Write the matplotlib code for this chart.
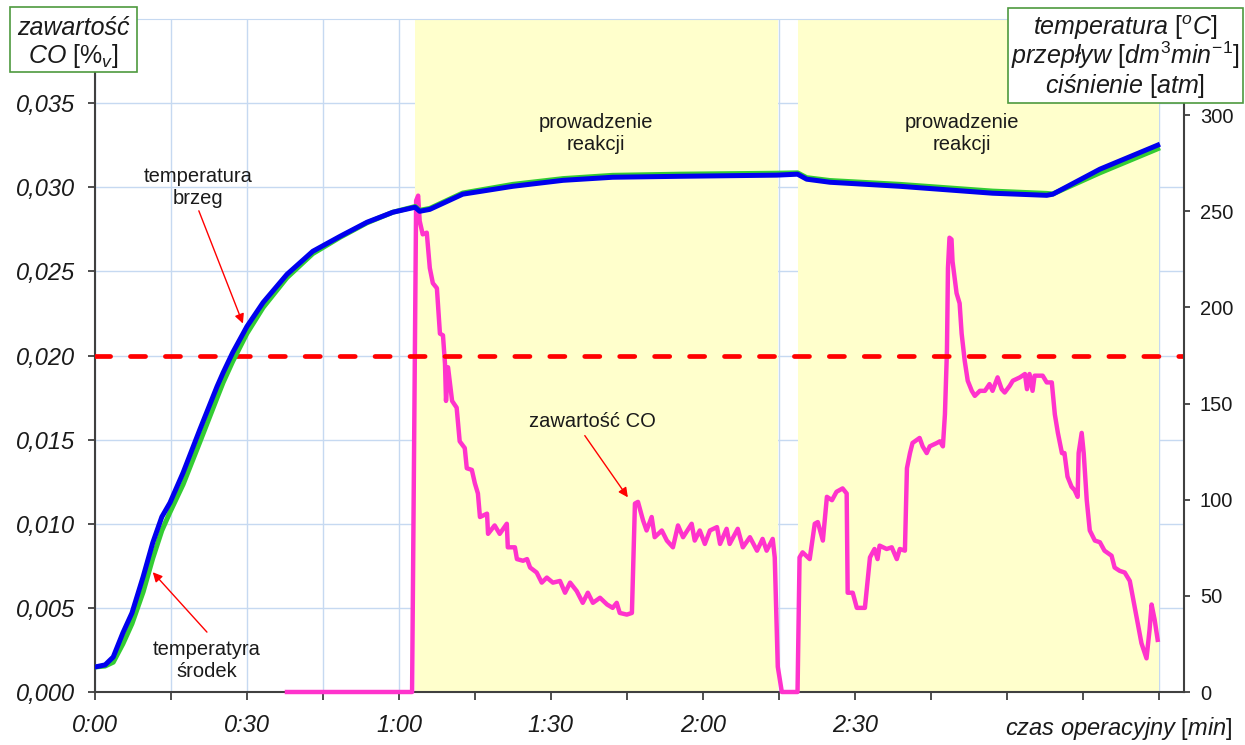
import matplotlib.pyplot as plt
from matplotlib.patches import Rectangle

plt.rcParams['font.family'] = ['Liberation Sans', 'DejaVu Sans']
plt.rcParams['mathtext.fontset'] = 'custom'
plt.rcParams['mathtext.rm'] = 'Liberation Sans'
plt.rcParams['mathtext.it'] = 'Liberation Sans:italic'
plt.rcParams['mathtext.sf'] = 'Liberation Sans'

# temperature curves (right axis), time in minutes
temp_t = [0.0, 2.0, 3.6, 5.5, 7.3, 9.5, 11.4, 13.2, 14.8, 17.4, 20.7, 24.1, 25.3,
          27.2, 30.0, 33.2, 37.9, 43.0, 48.4, 53.7, 58.8, 63.2, 64.1, 66.1, 72.6,
          82.5, 92.4, 102.2, 115.5, 134.6, 138.7, 140.5, 145.1, 158.9, 177.2,
          187.9, 189.1, 198.4, 209.8]
temp_brzeg = [13.0, 14.1, 18.2, 30.7, 41.1, 59.9, 77.6, 91.1, 98.4, 114.1, 136.5,
              158.9, 166.1, 176.6, 190.1, 202.6, 217.2, 229.2, 237.0, 244.3, 249.5,
              252.1, 250.0, 251.0, 258.9, 263.0, 266.1, 267.7, 268.2, 268.8, 269.3,
              266.7, 265.1, 263.0, 259.4, 258.3, 258.9, 271.9, 284.4]
temp_srodek = [13.0, 13.5, 15.5, 25.0, 35.5, 52.0, 69.5, 84.0, 93.5, 108.0, 130.0,
               153.0, 161.0, 172.0, 186.5, 200.0, 215.5, 228.0, 236.5, 244.0, 249.5,
               252.5, 250.5, 251.5, 259.5, 264.0, 267.0, 268.7, 269.3, 269.8, 270.0,
               267.5, 266.0, 264.0, 260.5, 259.3, 259.0, 270.0, 282.5]

# CO content (left axis)
co_t = [37.9, 62.6, 63.4, 63.8, 64.1, 64.7, 65.5, 66.1, 66.7, 67.5, 68.1, 68.7, 69.1,
        69.3, 69.7, 70.5, 71.4, 72.0, 73.0, 73.4, 74.4, 75.0, 75.6, 76.0, 77.4, 77.6,
        78.9, 79.9, 81.3, 81.5, 82.9, 83.3, 84.5, 85.3, 85.9, 87.2, 88.2, 89.2, 90.4,
        91.8, 92.8, 93.8, 95.1, 96.3, 97.3, 98.3, 99.7, 101.1, 102.2, 103.0, 103.6,
        105.0, 106.0, 106.6, 107.2, 108.2, 108.9, 109.9, 110.5, 111.9, 112.9, 114.1,
        115.1, 116.1, 117.8, 118.4, 119.4, 120.4, 121.4, 122.8, 123.4, 124.7, 125.3,
        126.9, 127.9, 129.3, 130.7, 131.8, 132.6, 133.8, 134.2, 134.8, 135.6, 138.7,
        139.1, 139.7, 141.1, 142.1, 142.7, 143.7, 144.5, 145.5, 146.4, 147.6, 148.4,
        148.6, 149.6, 150.4, 151.4, 152.0, 153.0, 153.9, 154.5, 154.9, 156.3, 157.3,
        158.3, 158.9, 159.9, 160.3, 160.9, 161.4, 162.8, 163.4, 164.2, 164.8, 166.2,
        166.8, 167.4, 167.8, 168.2, 168.4, 168.7, 169.1, 169.3, 170.1, 170.7, 171.1,
        171.7, 172.3, 173.1, 173.7, 174.7, 175.7, 176.6, 177.2, 178.2, 179.0, 179.6,
        180.6, 181.2, 182.6, 183.6, 184.0, 184.5, 185.1, 185.5, 187.1, 187.9, 188.9,
        189.5, 190.1, 190.9, 191.4, 192.0, 192.8, 193.4, 194.0, 194.2, 194.8, 195.2,
        195.8, 196.4, 197.4, 198.4, 199.3, 200.7, 201.3, 202.3, 203.3, 204.3, 205.3,
        206.6, 207.6, 208.2, 208.6, 209.2, 209.8]
co_val = [0.0, 0.0, 0.0292, 0.0295, 0.0280, 0.0272, 0.0273, 0.0252, 0.0243, 0.0240,
          0.0213, 0.0212, 0.0195, 0.0173, 0.0193, 0.0173, 0.0169, 0.0149, 0.0145,
          0.0133, 0.0132, 0.0124, 0.0118, 0.0104, 0.0106, 0.0094, 0.0099, 0.0094,
          0.0100, 0.0086, 0.0086, 0.0079, 0.0078, 0.0079, 0.0074, 0.0071, 0.0065,
          0.0068, 0.0065, 0.0066, 0.0059, 0.0065, 0.0060, 0.0053, 0.0059, 0.0053,
          0.0056, 0.0052, 0.0050, 0.0053, 0.0047, 0.0046, 0.0047, 0.0112, 0.0113,
          0.0102, 0.0096, 0.0104, 0.0092, 0.0096, 0.0090, 0.0086, 0.0099, 0.0092,
          0.0100, 0.0090, 0.0096, 0.0088, 0.0096, 0.0098, 0.0088, 0.0097, 0.0088,
          0.0097, 0.0086, 0.0092, 0.0084, 0.0091, 0.0084, 0.0091, 0.0080, 0.0015,
          0.0, 0.0, 0.0080, 0.0083, 0.0079, 0.0100, 0.0101, 0.0090, 0.0116, 0.0114,
          0.0119, 0.0121, 0.0118, 0.0059, 0.0059, 0.0050, 0.0050, 0.0050, 0.0080,
          0.0085, 0.0079, 0.0087, 0.0085, 0.0086, 0.0079, 0.0085, 0.0084, 0.0133,
          0.0142, 0.0148, 0.0151, 0.0146, 0.0142, 0.0146, 0.0148, 0.0149, 0.0146,
          0.0165, 0.0203, 0.0252, 0.0270, 0.0269, 0.0256, 0.0237, 0.0231, 0.0213,
          0.0197, 0.0185, 0.0179, 0.0176, 0.0179, 0.0179, 0.0183, 0.0179, 0.0187,
          0.0180, 0.0178, 0.0182, 0.0185, 0.0187, 0.0189, 0.0180, 0.0189, 0.0179,
          0.0188, 0.0188, 0.0184, 0.0184, 0.0165, 0.0154, 0.0142, 0.0142, 0.0128,
          0.0122, 0.0120, 0.0116, 0.0142, 0.0154, 0.0142, 0.0114, 0.0096, 0.0090,
          0.0089, 0.0084, 0.0081, 0.0074, 0.0072, 0.0071, 0.0066, 0.0050, 0.0029,
          0.0020, 0.0037, 0.0052, 0.0043, 0.0031]

co_limit = 0.020
bands = [(63.2, 134.8), (138.7, 210.0)]

x_ticks = list(range(0, 211, 15))
x_labels = ['0:00', '', '0:30', '', '1:00', '', '1:30', '', '2:00', '', '2:30', '', '', '', '']
left_ticks = [0.0, 0.005, 0.010, 0.015, 0.020, 0.025, 0.030, 0.035]
left_labels = ['0,000', '0,005', '0,010', '0,015', '0,020', '0,025', '0,030', '0,035']
right_ticks = [0, 50, 100, 150, 200, 250, 300]

W, H = 1245, 745
fig = plt.figure(figsize=(W / 100, H / 100), dpi=100)
ax = fig.add_axes([95 / W, 53 / H, 1089 / W, 673 / H])
ax2 = ax.twinx()

grid_c = '#c6d9f1'
spine_c = '#404040'
txt_c = '#1a1a1a'

ax.set_xlim(0, 215)
ax.set_ylim(0, 0.04)
ax2.set_ylim(0, 350)

for a, b in bands:
    ax.axvspan(a, b, color='#ffffcc', lw=0, zorder=1)

ax.plot(co_t, co_val, color='#ff33cc', lw=3.2, zorder=3, clip_on=False,
        solid_joinstyle='round')
ax.axhline(co_limit, color='#ff0000', lw=3.4, dashes=(3.2, 4.2),
           dash_capstyle='round', zorder=4)

ax2.plot(temp_t, temp_srodek, color='#33cc33', lw=3.6, solid_joinstyle='round')
ax2.plot(temp_t, temp_brzeg, color='#0000ee', lw=3.6, solid_joinstyle='round')

ax.set_axisbelow(True)
ax.grid(True, color=grid_c, lw=1)
ax.set_xticks(x_ticks, labels=x_labels, fontstyle='italic', fontsize=17, color=txt_c)
ax.set_yticks(left_ticks, labels=left_labels, fontstyle='italic', fontsize=17, color=txt_c)
ax2.set_yticks(right_ticks, labels=[str(v) for v in right_ticks], fontsize=14.5, color=txt_c)

ax.tick_params(axis='x', direction='out', length=6, width=1.3, color=spine_c, pad=9.5)
ax.tick_params(axis='y', direction='out', length=5, width=1.3, color=spine_c, pad=9.5)
ax2.tick_params(axis='y', direction='out', length=4.5, width=1.3, color=spine_c, pad=7)

for s in ['left', 'bottom']:
    ax.spines[s].set_color(spine_c)
    ax.spines[s].set_linewidth(1.5)
ax.spines['right'].set_visible(False)
ax.spines['top'].set_color(grid_c)
for s in ['left', 'bottom', 'top']:
    ax2.spines[s].set_visible(False)
ax2.spines['right'].set_color(spine_c)
ax2.spines['right'].set_linewidth(1.5)

# annotations
ax.text(20.3, 0.0300, 'temperatura\nbrzeg', ha='center', va='center', fontsize=14.5, color=txt_c)
ax.annotate('', xy=(29.2, 0.0219), xytext=(20.5, 0.0286),
            arrowprops=dict(arrowstyle='-|>', color='red', lw=1, mutation_scale=14,
                            shrinkA=0, shrinkB=0))
ax.text(22.1, 0.0019, 'temperatyra\nśrodek', ha='center', va='center', fontsize=14.5, color=txt_c)
ax.annotate('', xy=(11.4, 0.00712), xytext=(22.1, 0.00356),
            arrowprops=dict(arrowstyle='-|>', color='red', lw=1, mutation_scale=14,
                            shrinkA=0, shrinkB=0))
ax.text(98.3, 0.0161, 'zawartość CO', ha='center', va='center', fontsize=14.5, color=txt_c)
ax.annotate('', xy=(105.2, 0.01157), xytext=(96.7, 0.01524),
            arrowprops=dict(arrowstyle='-|>', color='red', lw=1, mutation_scale=14,
                            shrinkA=0, shrinkB=0))
for xc in [98.9, 171.1]:
    ax.text(xc, 0.0332, 'prowadzenie\nreakcji', ha='center', va='center',
            fontsize=14.5, color=txt_c)

# axis title boxes
box_c = '#4e9a3e'
fig.add_artist(Rectangle((10 / W, 1 - 72 / H), 127 / W, 65 / H, transform=fig.transFigure,
                         facecolor='white', edgecolor=box_c, lw=1.2, zorder=5))
fig.text(73 / W, 1 - 35 / H, 'zawartość', ha='center', va='baseline', fontsize=18,
         fontstyle='italic', color=txt_c, zorder=6)
fig.text(73 / W, 1 - 63 / H, r'$\mathit{CO}\ [\mathit{\%}_{\mathit{v}}]$', ha='center',
         va='baseline', fontsize=18, color=txt_c, zorder=6)

fig.add_artist(Rectangle((1008 / W, 1 - 103 / H), 235 / W, 95 / H, transform=fig.transFigure,
                         facecolor='white', edgecolor=box_c, lw=1.2, zorder=5))
right_title = [r'$\mathit{temperatura}\ [^{\mathit{o}}\mathit{C}]$',
               r'$\mathit{przepływ}\ [\mathit{dm}^{\mathit{3}}\mathit{min}^{\mathit{-1}}]$',
               r'$\mathit{ciśnienie}\ [\mathit{atm}]$']
for line, yb in zip(right_title, [35, 64, 93]):
    fig.text(1125 / W, 1 - yb / H, line, ha='center', va='baseline', fontsize=18,
             color=txt_c, zorder=6)

fig.text(1232 / W, 10 / H, r'$\mathit{czas\ operacyjny}\ [\mathit{min}]$', ha='right',
         va='baseline', fontsize=17, color=txt_c)

fig.savefig('out.png', dpi=100, facecolor='white')
